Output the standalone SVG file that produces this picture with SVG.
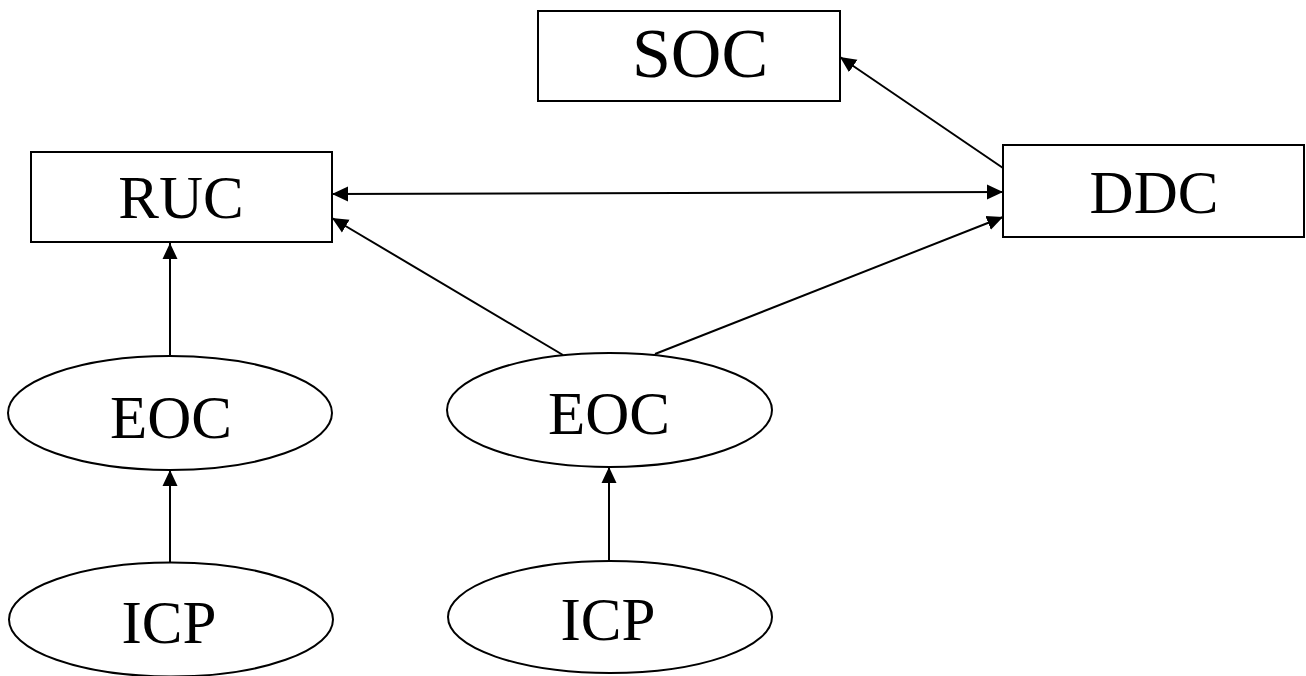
<svg xmlns="http://www.w3.org/2000/svg" width="1306" height="676" viewBox="0 0 1306 676">
<style>
.box{fill:#fff;stroke:#000;stroke-width:2}
.lbl{font-family:"Liberation Serif","Times New Roman",serif;font-size:61px;fill:#000;text-anchor:middle}
.con{stroke:#000;stroke-width:2;fill:none}
</style>
<defs>
<marker id="ah" markerUnits="userSpaceOnUse" markerWidth="17" markerHeight="16" refX="16" refY="7.5" orient="auto-start-reverse" viewBox="0 0 17 15">
<path d="M0,0 L16,7.5 L0,15 Z" fill="#000"/>
</marker>
</defs>
<rect width="1306" height="676" fill="#fff"/>
<g id="connectors">
<line class="con" x1="170" y1="356" x2="170" y2="243" marker-end="url(#ah)"/>
<line class="con" x1="170" y1="563" x2="170" y2="470" marker-end="url(#ah)"/>
<line class="con" x1="609" y1="561" x2="609" y2="467" marker-end="url(#ah)"/>
<line class="con" x1="563" y1="355" x2="332" y2="218" marker-end="url(#ah)"/>
<line class="con" x1="655" y1="354" x2="1003" y2="217" marker-end="url(#ah)"/>
<line class="con" x1="332" y1="194" x2="1003" y2="192" marker-start="url(#ah)" marker-end="url(#ah)"/>
<line class="con" x1="1003" y1="168" x2="840" y2="57" marker-end="url(#ah)"/>
</g>
<g id="SOC">
<rect class="box" x="538" y="11" width="302" height="90"/>
<text class="lbl" x="700" y="77" style="font-size:70px">SOC</text>
</g>
<g id="RUC">
<rect class="box" x="31" y="152" width="301" height="90"/>
<text class="lbl" x="181" y="218">RUC</text>
</g>
<g id="DDC">
<rect class="box" x="1003" y="145" width="301" height="92"/>
<text class="lbl" x="1154" y="213">DDC</text>
</g>
<g id="EOC1">
<ellipse class="box" cx="170" cy="413" rx="162" ry="57"/>
<text class="lbl" x="171" y="438">EOC</text>
</g>
<g id="EOC2">
<ellipse class="box" cx="609.5" cy="410" rx="162.5" ry="57"/>
<text class="lbl" x="609" y="434">EOC</text>
</g>
<g id="ICP1">
<ellipse class="box" cx="171" cy="619.5" rx="162" ry="57"/>
<text class="lbl" x="169" y="643">ICP</text>
</g>
<g id="ICP2">
<ellipse class="box" cx="610" cy="617" rx="162" ry="56"/>
<text class="lbl" x="608" y="640">ICP</text>
</g>
</svg>
